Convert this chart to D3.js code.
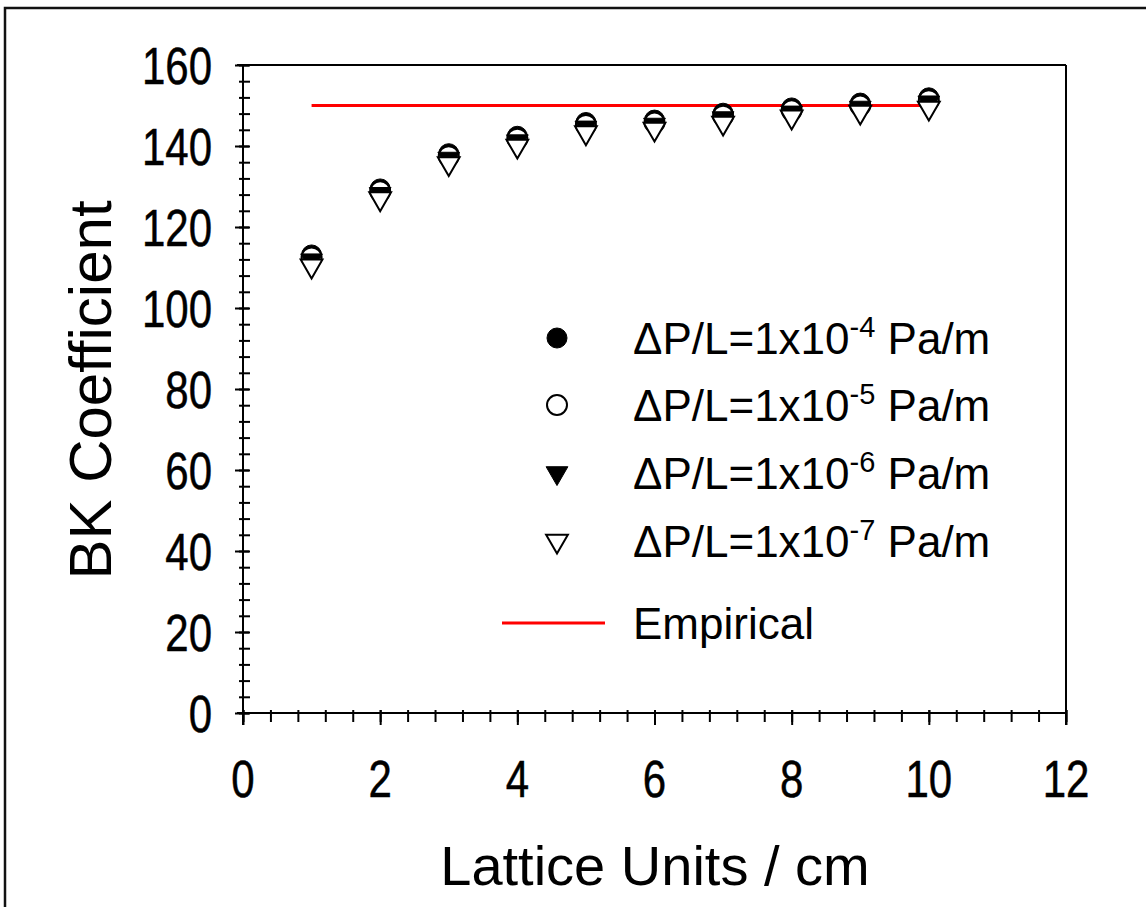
<!DOCTYPE html>
<html>
<head>
<meta charset="utf-8">
<script src="https://cdn.jsdelivr.net/npm/d3@7"></script>
<style>
  html, body { margin: 0; padding: 0; background: #fff; }
  svg { display: block; }
  text { font-family: "Liberation Sans", Arial, sans-serif; fill: #000; }
</style>
</head>
<body>
<svg id="chart" width="1146" height="907"></svg>
<script>
// Lattice spacing (cm) at which the BK coefficient was computed
const latticeUnits = [1, 2, 3, 4, 5, 6, 7, 8, 9, 10];

// BK coefficient for each pressure gradient
const bk_1e4 = [113.1, 129.4, 138.1, 142.4, 145.8, 146.4, 148.1, 149.4, 150.6, 151.9];
const bk_1e5 = [112.5, 128.8, 137.5, 141.8, 145.2, 145.8, 147.5, 148.8, 150.0, 151.3];
const bk_1e6 = [111.8, 128.2, 136.9, 141.2, 144.6, 145.3, 146.9, 148.3, 149.5, 150.8];
const bk_1e7 = [110.4, 127.0, 135.7, 140.0, 143.3, 144.2, 145.7, 147.2, 148.4, 149.4];

// Empirical Blake-Kozeny value, drawn over the sampled range
const empiricalValue = 150;
const empiricalRange = [1, 10];

const xTickValues = [0, 2, 4, 6, 8, 10, 12];
const yTickValues = [0, 20, 40, 60, 80, 100, 120, 140, 160];
const xMinorValues = d3.range(0, 12.001, 0.4);
const yMinorValues = d3.range(0, 160.001, 4);

const seriesLabels = ["-4", "-5", "-6", "-7"];

const series = [
  { values: bk_1e4, shape: "circle",   filled: true,  exp: seriesLabels[0] },
  { values: bk_1e5, shape: "circle",   filled: false, exp: seriesLabels[1] },
  { values: bk_1e6, shape: "triangle", filled: true,  exp: seriesLabels[2] },
  { values: bk_1e7, shape: "triangle", filled: false, exp: seriesLabels[3] }
];

const svg = d3.select("#chart");

// outer frame
svg.append("path")
  .attr("d", "M5,907 L5,8 L1146,8")
  .attr("fill", "none").attr("stroke", "#111").attr("stroke-width", 2.5);

const plot = { left: 243, right: 1066, top: 65, bottom: 713 };
const x = d3.scaleLinear().domain([0, 12]).range([plot.left, plot.right]);
const y = d3.scaleLinear().domain([0, 160]).range([plot.bottom, plot.top]);

const axisColor = "#000";

// plot box (top and right edges)
svg.append("line").attr("x1", plot.left - 6).attr("x2", plot.right).attr("y1", plot.top).attr("y2", plot.top)
  .attr("stroke", axisColor).attr("stroke-width", 2);
svg.append("line").attr("x1", plot.right).attr("x2", plot.right).attr("y1", plot.top).attr("y2", plot.bottom + 12)
  .attr("stroke", axisColor).attr("stroke-width", 2);

// y axis: major ticks crossing the axis, minor ticks
const yAxisG = svg.append("g").attr("transform", `translate(${plot.left},0)`);
yAxisG.call(d3.axisLeft(y).tickValues(yMinorValues).tickSize(4).tickFormat(""));
yAxisG.selectAll(".tick line").attr("x1", 7).attr("stroke-width", 2);
const yMajorG = svg.append("g").attr("transform", `translate(${plot.left},0)`);
yMajorG.call(d3.axisLeft(y).tickValues(yTickValues).tickSize(8).tickFormat(""));
yMajorG.selectAll(".tick line").attr("x1", 6).attr("stroke-width", 2);
[yAxisG, yMajorG].forEach(g => g.select(".domain").remove());
svg.append("line").attr("x1", plot.left).attr("x2", plot.left).attr("y1", plot.top).attr("y2", plot.bottom + 12)
  .attr("stroke", axisColor).attr("stroke-width", 2);

// x axis
const xAxisG = svg.append("g").attr("transform", `translate(0,${plot.bottom})`);
xAxisG.call(d3.axisBottom(x).tickValues(xMinorValues).tickSize(9).tickFormat(""));
xAxisG.selectAll(".tick line").attr("y1", -3).attr("stroke-width", 2);
const xMajorG = svg.append("g").attr("transform", `translate(0,${plot.bottom})`);
xMajorG.call(d3.axisBottom(x).tickValues(xTickValues).tickSize(12).tickFormat(""));
xMajorG.selectAll(".tick line").attr("y1", -3).attr("stroke-width", 2);
[xAxisG, xMajorG].forEach(g => g.select(".domain").remove());
svg.append("line").attr("x1", plot.left - 6).attr("x2", plot.right).attr("y1", plot.bottom).attr("y2", plot.bottom)
  .attr("stroke", axisColor).attr("stroke-width", 2);

// tick labels (tall, narrow digits)
const tickFont = 42, tickStretch = 1.25;
svg.append("g").selectAll("text").data(yTickValues).join("text")
  .attr("transform", d => `translate(212,${y(d)}) scale(1,${tickStretch})`)
  .attr("text-anchor", "end").attr("dy", "0.36em")
  .style("font-size", tickFont + "px")
  .style("stroke", "#000").style("stroke-width", 0.4)
  .text(d => d);
svg.append("g").selectAll("text").data(xTickValues).join("text")
  .attr("transform", d => `translate(${x(d)},797) scale(1,${tickStretch})`)
  .attr("text-anchor", "middle")
  .style("font-size", tickFont + "px")
  .style("stroke", "#000").style("stroke-width", 0.4)
  .text(d => d);

// axis titles
svg.append("text")
  .attr("transform", "translate(111,390) rotate(-90)")
  .attr("text-anchor", "middle")
  .style("font-size", "60px")
  .text("BK Coefficient");
svg.append("text")
  .attr("x", 655).attr("y", 885)
  .attr("text-anchor", "middle")
  .style("font-size", "56px")
  .text("Lattice Units / cm");

// marker generators
const circleSym = d3.symbol().type(d3.symbolCircle).size(Math.PI * 10 * 10);
const triSym = d3.symbol().type(d3.symbolTriangle).size(205);

function drawMarker(g, s) {
  const p = g.append("path")
    .attr("d", s.shape === "circle" ? circleSym() : triSym())
    .attr("fill", s.filled ? "#000" : "#fff")
    .attr("stroke", "#000")
    .attr("stroke-width", s.filled ? 1 : 2);
  if (s.shape === "triangle") p.attr("transform", "rotate(180)");
  return p;
}

// empirical line
svg.append("line")
  .attr("x1", x(empiricalRange[0])).attr("x2", x(empiricalRange[1]))
  .attr("y1", y(empiricalValue)).attr("y2", y(empiricalValue))
  .attr("stroke", "#ff0000").attr("stroke-width", 3);

// data markers, drawn series by series
series.forEach(s => {
  const g = svg.append("g");
  latticeUnits.forEach((u, i) => {
    const mg = g.append("g").attr("transform", `translate(${x(u)},${y(s.values[i])})`);
    drawMarker(mg, s);
  });
});

// legend
const legendRows = [338, 405, 473, 541];
const legend = svg.append("g");
series.forEach((s, i) => {
  const mg = legend.append("g").attr("transform", `translate(557,${legendRows[i]})`);
  drawMarker(mg, s);
  const t = legend.append("text")
    .attr("x", 633).attr("y", legendRows[i] + 16)
    .style("font-size", "44px");
  t.append("tspan").text("\u0394P/L=1x10");
  t.append("tspan").attr("dy", -17).style("font-size", "29px").text(s.exp);
  t.append("tspan").attr("dy", 17).text(" Pa/m");
});
legend.append("line")
  .attr("x1", 502).attr("x2", 605).attr("y1", 623).attr("y2", 623)
  .attr("stroke", "#ff0000").attr("stroke-width", 3);
legend.append("text")
  .attr("x", 633).attr("y", 639)
  .style("font-size", "44px")
  .text("Empirical");
</script>
</body>
</html>
